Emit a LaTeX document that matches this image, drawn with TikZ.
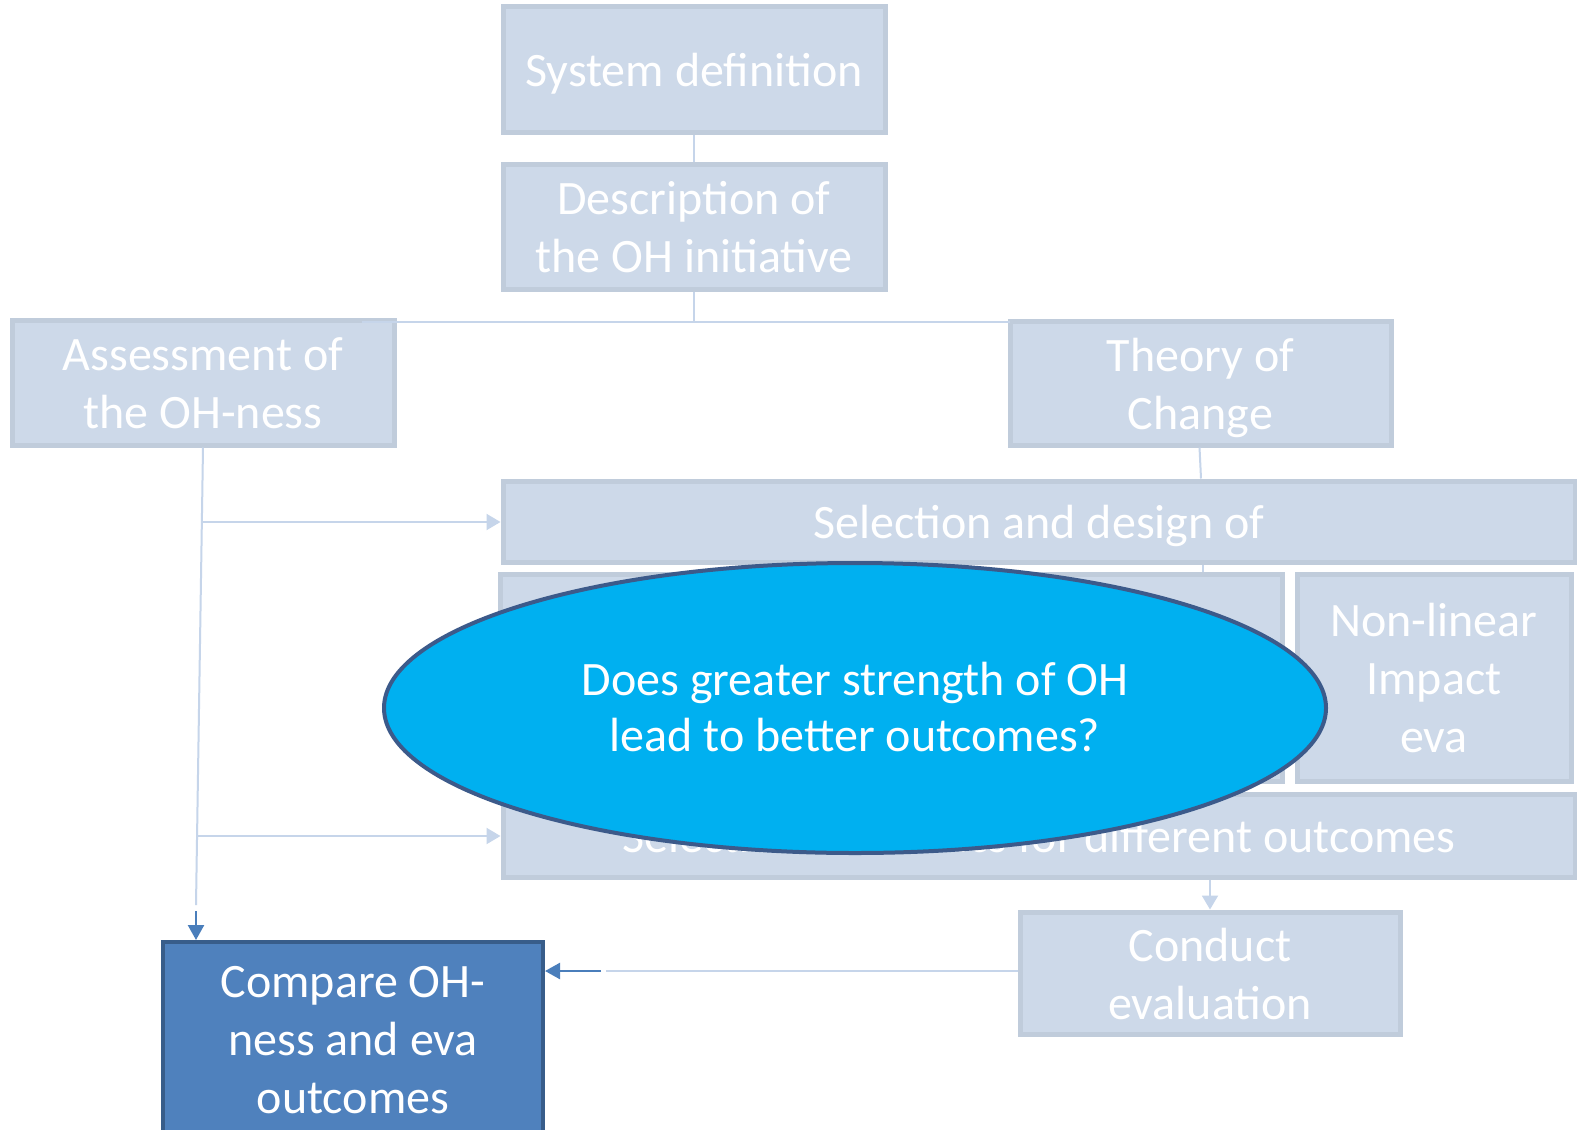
\documentclass[tikz,border=0pt]{standalone}
\usepackage{fontspec}
\setmainfont{Carlito}
\usetikzlibrary{arrows.meta,shapes.geometric}
\definecolor{boxfill}{RGB}{205,217,233}
\definecolor{boxline}{RGB}{192,204,219}
\definecolor{lightline}{RGB}{198,213,234}
\definecolor{darkarrow}{RGB}{74,126,187}
\definecolor{cmpfill}{RGB}{79,129,189}
\definecolor{cmpline}{RGB}{56,93,138}
\definecolor{ellfill}{RGB}{0,176,240}
\definecolor{ellline}{RGB}{60,90,138}
\newcommand{\bs}{\rule[-6pt]{0pt}{29pt}}
\newcommand{\es}{\rule[-6.5pt]{0pt}{28pt}}
\tikzset{
  txtbase/.style={align=center, inner sep=0pt, text=white},
  fadebox/.style={txtbase, rectangle, fill=boxfill, draw=boxline, line width=2.5pt,
    font=\fontsize{24}{29}\selectfont},
  cmpbox/.style={txtbase, rectangle, fill=cmpfill, draw=cmpline, line width=2pt,
    font=\fontsize{24}{29}\selectfont},
  qell/.style={txtbase, ellipse, fill=ellfill, draw=ellline, line width=2pt,
    font=\fontsize{24}{28}\selectfont},
  lightconn/.style={draw=lightline, line width=1pt},
  lightarrow/.style={draw=lightline, line width=1pt, -{Triangle[length=7pt,width=8pt]}},
  darkarr/.style={draw=darkarrow, line width=1.2pt, -{Triangle[length=7.5pt,width=8pt]}},
}
\begin{document}
\begin{tikzpicture}[x=0.5pt,y=-0.5pt]
\useasboundingbox (0,0) rectangle (1577,1129);
\clip (0,0) rectangle (1577,1129);
\fill[white] (0,0) rectangle (1577,1129);
% boxes
\node[fadebox, minimum width=191pt, minimum height=62.5pt] (sys) at (694,69.5) {\bs System definition};
\node[fadebox, minimum width=191pt, minimum height=62.5pt] (desc) at (694,226.5) {\bs Description of\\\bs the OH initiative};
\node[fadebox, minimum width=191pt, minimum height=62.5pt] (ass) at (203,382.5) {\bs Assessment of\\\bs the OH-ness};
\node[fadebox, minimum width=190.5pt, minimum height=62pt] (toc) at (1200.5,383) {\bs Theory of\\\bs Change};
\node[fadebox, minimum width=536pt, minimum height=40.5pt] (sel) at (1039,521.5) {\bs Selection and design of};
\node[fadebox, minimum width=391pt, minimum height=103.5pt] (mid) at (891,677.5) {};
\node[fadebox, minimum width=137pt, minimum height=103.5pt] (nl) at (1434,677.5) {\bs Non-linear\\\bs Impact\\\bs eva};
\node[fadebox, minimum width=536pt, minimum height=41.5pt] (sel2) at (1039,835.5) {\bs Selection of metrics for different outcomes};
\node[fadebox, minimum width=190pt, minimum height=61pt] (cond) at (1210,973) {\bs Conduct\\\bs evaluation};
\node[cmpbox, minimum width=190pt, minimum height=96pt] (cmp) at (353,1038) {\bs Compare OH-\\\bs ness and eva\\\bs outcomes};
% helper coordinates
\coordinate (hubtop) at (694,322);
\coordinate (hubl) at (362,322);
\coordinate (hubr) at (1010,322);
\coordinate (vbot) at (196,905);
\coordinate (vdk) at (196,911);
\coordinate (br1) at (202,522);
\coordinate (br2) at (198,836);
\coordinate (hl) at (606,971);
\coordinate (hdk) at (601,971);
% connectors
\draw[lightconn] (sys.south) -- (desc.north);
\draw[lightconn] (desc.south) -- (hubtop);
\draw[lightconn] (hubl) -- (hubr);
\draw[lightconn] ([xshift=-0.5pt]toc.south) -- ([xshift=81pt]sel.north);
\draw[lightconn] ([xshift=82pt]sel.south) -- ([xshift=82pt]sel.south |- mid.north);
\draw[lightconn] (ass.south) -- (vbot);
\draw[darkarr] (vdk) -- (vdk |- cmp.north);
\draw[lightarrow] (br1) -- (br1 -| sel.west);
\draw[lightarrow] (br2) -- (br2 -| sel2.west);
\draw[lightarrow] (sel2.south -| cond.north) -- (cond.north);
\draw[lightconn] (cond.west |- hl) -- (hl);
\draw[darkarr] (hdk) -- (hdk -| cmp.east);
% question ellipse
\node[qell, minimum width=471pt, minimum height=145pt] (q) at (855,708) {\es Does greater strength of OH\\\es lead to better outcomes?};
\end{tikzpicture}
\end{document}
